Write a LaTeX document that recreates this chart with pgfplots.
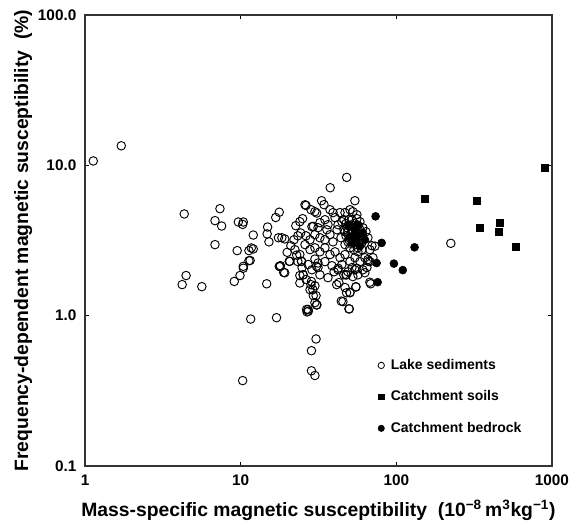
\documentclass[border=0pt]{standalone}
\usepackage{fontspec}
\setmainfont{Liberation Sans}
\usepackage{pgfplots}
\pgfplotsset{compat=1.18}
\pgfplotstableread{
x y
1.13 10.7
1.71 13.5
4.34 4.75
4.46 1.85
4.21 1.61
5.63 1.56
7.36 5.15
6.84 4.29
7.55 3.95
6.84 2.97
9.66 4.2
10.4 4.2
10.3 4.05
12.05 3.44
9.5 2.71
11.3 2.71
11.7 2.82
12.05 2.78
11.5 2.33
14.9 3.89
14.8 3.5
15.2 3.1
16.8 4.5
17.7 4.88
17.5 3.3
10.4 2.13
17.7 2.13
9.1 1.69
9.9 1.85
10.4 2.07
11.3 2.32
14.7 1.63
11.6 0.95
17.0 0.97
10.3 0.37
30.5 0.70
28.5 0.585
28.5 0.43
30.0 0.40
26.5 1.10
27.2 1.07
30.7 1.18
29.3 1.36
27.9 1.49
30.0 1.58
28.5 1.69
24.0 1.65
24.0 1.85
25.2 1.87
18.0 2.15
18.9 1.94
20.5 2.3
24.6 2.3
30.0 2.38
30.7 2.13
31.4 2.24
41.4 1.61
44.3 1.25
49.9 1.11
47.9 1.42
50.4 1.43
55.0 1.55
42.3 2.07
46.0 1.87
47.9 1.87
55.6 2.07
66.0 2.3
67.6 1.67
48.0 8.32
37.6 7.1
54.2 5.82
33.1 5.82
34.3 5.48
26.3 5.41
28.3 5.07
30.8 4.82
25.0 4.42
24.3 3.55
29.3 3.93
19.2 3.24
21.0 2.92
19.9 2.64
22.9 2.53
24.6 2.30
20.7 2.30
224 3.03
72.9 2.9
68.4 1.63
25.9 5.47
30.0 4.92
37.5 5.07
39.2 4.85
43.5 4.85
46.8 4.85
50.4 5.07
52.6 4.92
55.8 4.70
28.7 3.91
32.3 4.16
34.8 4.35
35.8 3.73
40.4 4.49
42.2 4.03
46.1 4.35
48.9 3.97
51.9 4.35
58.4 4.22
61.0 3.85
63.8 3.62
65.7 3.30
60.1 3.06
56.7 2.83
67.7 2.75
69.7 2.92
44.7 4.22
47.5 4.10
50.4 3.97
53.4 4.10
56.7 3.97
46.1 3.73
48.9 3.62
51.9 3.73
55.0 3.62
58.4 3.73
47.5 3.40
50.4 3.30
53.4 3.40
56.7 3.30
60.1 3.40
48.9 3.10
51.9 3.01
55.0 3.10
58.4 3.01
50.4 2.83
53.4 2.75
56.7 2.66
60.1 2.75
46.8 2.97
44.1 3.30
54.2 3.85
49.6 4.35
55.8 4.42
52.6 3.20
48.2 3.85
51.2 3.51
54.2 3.46
57.5 3.51
49.6 3.20
55.8 2.97
52.6 3.97
46.8 3.62
59.3 3.20
25.9 2.97
27.9 2.75
30.0 2.83
32.3 2.66
34.8 2.83
37.5 2.55
40.4 2.66
43.5 2.43
46.8 2.55
50.4 2.29
54.2 2.43
58.4 2.29
62.8 2.43
67.7 2.29
24.0 2.55
22.3 2.75
23.3 2.29
27.1 2.19
28.7 2.02
31.4 2.09
34.8 2.29
38.6 2.15
42.2 2.02
44.7 2.19
48.9 1.96
51.9 2.09
56.7 1.87
61.0 2.02
64.7 2.09
70.8 2.43
25.2 1.87
26.3 1.74
28.3 1.61
29.1 1.49
30.5 1.36
30.0 1.22
27.1 1.10
26.7 1.06
30.9 1.18
24.8 2.09
32.3 1.87
36.4 1.79
39.8 1.96
42.8 1.66
46.8 1.54
50.4 1.42
55.0 1.56
45.4 1.24
49.6 1.11
47.5 1.87
54.2 2.02
18.4 3.30
22.0 3.20
23.3 3.40
26.3 3.40
27.9 3.20
30.0 3.46
32.3 3.30
34.8 3.20
37.5 3.46
39.2 3.10
41.6 3.73
31.4 3.85
36.4 4.03
24.0 4.22
22.6 3.97
17.9 2.12
19.2 1.93
62.8 1.93
65.7 2.36
52.6 1.82
}\lake
\pgfplotstableread{
x y
153 6.03
331 5.82
343 3.85
462 4.18
453 3.60
586 2.88
904 9.70
}\soils
\pgfplotstableread{
x y
73.6 4.58
80.5 3.05
74.7 2.24
96.5 2.22
131 2.85
110 2.01
75.9 1.67
49.6 4.00
56.7 4.03
54.2 3.68
50.4 3.35
55.8 3.35
52.6 3.06
58.4 2.90
61.0 3.56
62.8 3.20
}\bedrock
\begin{document}
\begin{tikzpicture}
\useasboundingbox (-63.8pt,-42.8pt) rectangle (366.2pt,349.7pt);
\begin{axis}[
  scale only axis, width=350.4pt, height=338.4pt,
  xmode=log, ymode=log, xmin=1, xmax=1000, ymin=0.1, ymax=100,
  xtick={1,10,100,1000}, xticklabels={1,10,100,1000},
  ytick={0.1,1,10,100}, yticklabels={0.1,1.0,10.0,100.0},
  xminorticks=false, yminorticks=false,
  tick align=inside, major tick length=3pt,
  tick style={black, line width=0.8pt},
  axis line style={line width=1.2pt, black!80},
  tick label style={font=\bfseries\fontsize{11.5}{13}\selectfont},
  xticklabel style={yshift=-3pt},
  yticklabel style={xshift=-3pt},
  /pgf/number format/assume math mode=true,
  xlabel={\bfseries Mass-specific magnetic susceptibility\ \ (10\textsuperscript{−8}\,m\textsuperscript{3}kg\textsuperscript{−1})},
  ylabel={\bfseries Frequency-dependent magnetic susceptibility\ \ (\%)},
  label style={font=\bfseries\fontsize{14.5}{16}\selectfont},
  xlabel style={at={(axis description cs:0.5,0)}, anchor=north, yshift=-22pt},
  ylabel style={at={(axis description cs:0,0.5)}, anchor=south, yshift=36pt},
  clip=false,
  legend style={at={(axis description cs:0.627,0.243)}, anchor=north west, draw=none, fill=none,
    font=\bfseries\fontsize{10.5}{12}\selectfont, row sep=10.5pt, inner sep=0pt},
  legend cell align=left,
  legend image code/.code={\draw[#1] plot coordinates {(0.12cm,0cm)}; \path (8.4pt,0pt);},
]
\addplot[only marks, mark=o, mark size=3.2pt, mark options={line width=0.7pt}, black, forget plot] table {\lake};
\addplot[only marks, mark=square*, mark size=2.6pt, black, forget plot] table {\soils};
\addplot[only marks, mark=*, mark size=3.0pt, black, forget plot] table {\bedrock};
\addlegendimage{only marks, mark=o, mark size=2.4pt, mark options={line width=0.6pt}, black}
\addlegendentry{Lake sediments}
\addlegendimage{only marks, mark=square*, mark size=2.1pt, black}
\addlegendentry{Catchment soils}
\addlegendimage{only marks, mark=*, mark size=2.4pt, black}
\addlegendentry{Catchment bedrock}
\end{axis}
\end{tikzpicture}
\end{document}
